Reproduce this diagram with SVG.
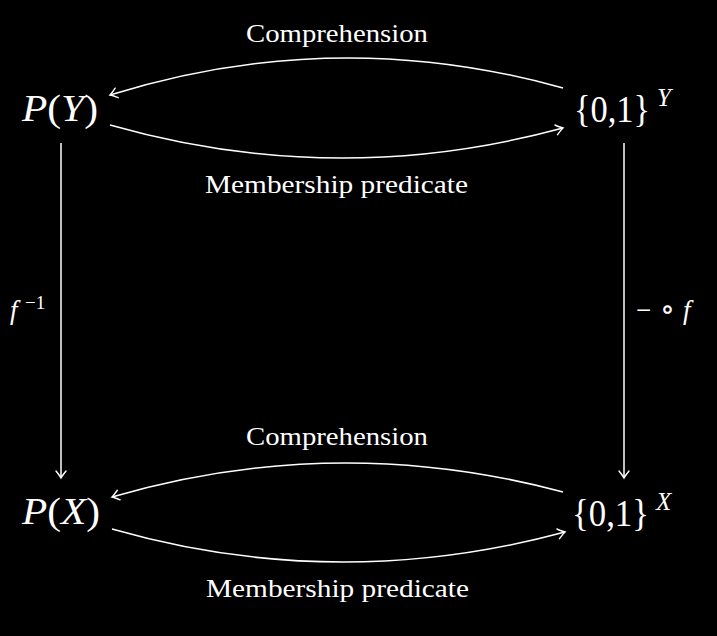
<svg xmlns="http://www.w3.org/2000/svg" width="717" height="636" viewBox="0 0 717 636">
<defs>
<style>
.t{font-family:"Liberation Serif","DejaVu Serif",serif;fill:#fff}
.lbl{font-size:25px}
.m{font-size:38px}
.i{font-style:italic}
.c{fill:none;stroke:#fff;stroke-width:1.5}
</style>
<marker id="ah" viewBox="-10 -6 12 12" refX="0" refY="0" markerWidth="12" markerHeight="12" markerUnits="userSpaceOnUse" orient="auto">
<path d="M-7,-5 Q-2,-1 0,0 Q-2,1 -7,5" fill="none" stroke="#fff" stroke-width="1.4" stroke-linecap="round"/>
</marker>
</defs>
<rect width="717" height="636" fill="#000"/>
<g id="connectors">
<path class="c" d="M563,88 Q336,24.5 110,95" marker-end="url(#ah)"/>
<path class="c" d="M110,125 Q336,189.5 563,128" marker-end="url(#ah)"/>
<path class="c" d="M563,492 Q337,431.5 112,497" marker-end="url(#ah)"/>
<path class="c" d="M112,529 Q337,593.5 565,532" marker-end="url(#ah)"/>
<path class="c" d="M61,143 L61,478" marker-end="url(#ah)"/>
<path class="c" d="M624,143 L624,478" marker-end="url(#ah)"/>
</g>
<g id="labels">
<text class="t lbl" x="246" y="42" textLength="182" lengthAdjust="spacingAndGlyphs">Comprehension</text>
<text class="t lbl" x="205" y="193" textLength="263" lengthAdjust="spacingAndGlyphs">Membership predicate</text>
<text class="t lbl" x="246" y="445" textLength="182" lengthAdjust="spacingAndGlyphs">Comprehension</text>
<text class="t lbl" x="206" y="597" textLength="263" lengthAdjust="spacingAndGlyphs">Membership predicate</text>
<text class="t" y="319" font-size="27"><tspan class="i" x="10">f</tspan><tspan x="25" y="309" font-size="19">−1</tspan></text>
<text class="t" y="319" font-size="27"><tspan x="636">−</tspan><tspan x="660" font-size="30">∘</tspan><tspan class="i" x="683">f</tspan></text>
</g>
<g id="PY"><text class="t m" x="22" y="121" textLength="76" lengthAdjust="spacingAndGlyphs"><tspan class="i">P</tspan>(<tspan class="i">Y</tspan>)</text></g>
<g id="ZY"><text class="t" font-size="37" x="574" y="122" textLength="76" lengthAdjust="spacingAndGlyphs">{0,1}</text><text class="t i" font-size="25" x="657" y="106">Y</text></g>
<g id="PX"><text class="t m" x="22" y="524" textLength="78" lengthAdjust="spacingAndGlyphs"><tspan class="i">P</tspan>(<tspan class="i">X</tspan>)</text></g>
<g id="ZX"><text class="t" font-size="37" x="572" y="526" textLength="77" lengthAdjust="spacingAndGlyphs">{0,1}</text><text class="t i" font-size="25" x="656" y="510">X</text></g>
</svg>
